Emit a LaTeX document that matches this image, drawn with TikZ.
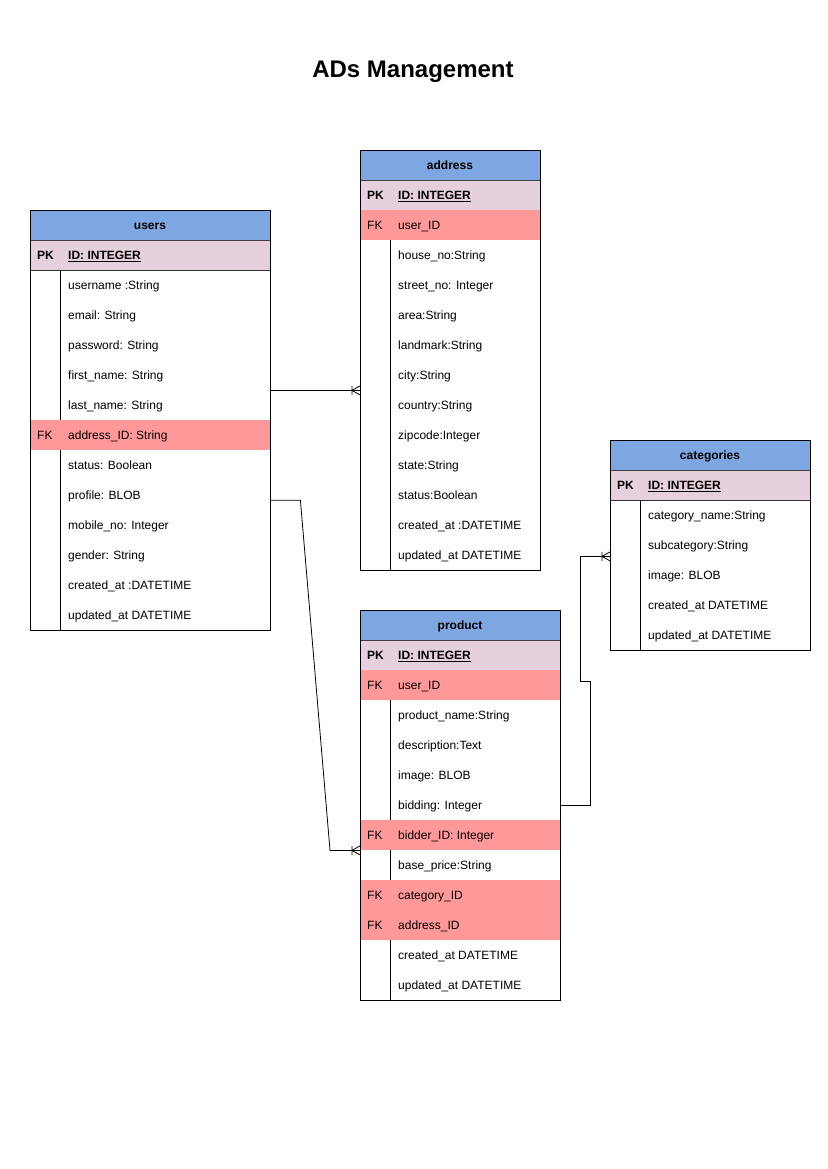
\documentclass[tikz,border=0pt]{standalone}
\usepackage{fontspec}
\setmainfont{Liberation Sans}
\usetikzlibrary{calc}

\definecolor{hdrblue}{HTML}{7EA6E0}
\definecolor{pkpink}{HTML}{E6D0DE}
\definecolor{fkred}{HTML}{FF9999}

\tikzset{
  txt/.style={font=\fontsize{12}{14}\selectfont},
  titletext/.style={font=\fontsize{24}{28}\selectfont\bfseries},
  hdrbox/.style={fill=hdrblue, draw=black!75, line width=0.7pt, inner sep=0pt,
    anchor=north west, minimum height=30pt},
  hdrtext/.style={font=\fontsize{12}{14}\selectfont\bfseries, inner sep=0pt, anchor=base},
  rowbox/.style={inner sep=0pt, anchor=north west, minimum height=30pt},
  rown/.style={},
  rowp/.style={fill=pkpink},
  rowf/.style={fill=fkred},
  divn/.style={draw=black, line width=0.7pt},
  divp/.style={},
  divf/.style={},
  sepn/.style={},
  sepp/.style={draw=black!80, line width=0.7pt},
  sepf/.style={},
  tablebox/.style={draw=black, line width=0.8pt, inner sep=0pt, anchor=north west},
  rowtext/.style={txt, anchor=base west, inner sep=0pt},
  conn/.style={draw=black, line width=0.8pt},
  crowfoot/.pic={\draw[line width=0.8pt] (-8,0) -- (0,-4.5) (-8,0) -- (0,4.5) (-8,-4.5) -- (-8,4.5);}
}

% #1 name, #2 x, #3 y, #4 width, #5 number of rows, #6 title, #7 rows key/field/kind
\newcommand\ertable[7]{%
  \begin{scope}[shift={(#2,#3)}]
    \foreach \keytxt/\fieldtxt/\rowkind [count=\i] in {#7} {
      \node[rowbox, row\rowkind, minimum width=#4] (#1-r\i) at (0,{\i*30}) {};
      \path[div\rowkind] (30,{\i*30}) -- (30,{\i*30+30});
      \path[sep\rowkind] (0,{\i*30+30}) -- (#4,{\i*30+30});
      \node[rowtext] (#1-k\i) at (7,{\i*30+19.5}) {\keytxt};
      \node[rowtext] (#1-t\i) at (38,{\i*30+19.5}) {\fieldtxt};
    }
    \node[hdrbox, minimum width=#4] (#1-h) at (0,0) {};
    \node[hdrtext] (#1-ht) at (#4/2,19.5) {#6};
    \node[tablebox, minimum width=#4, minimum height={(#5+1)*30}] (#1) at (0,0) {};
  \end{scope}%
}

\begin{document}
\begin{tikzpicture}[x=1pt, y=-1pt]
  \fill[white] (0,0) rectangle (827,1169);
  \useasboundingbox (0,0) rectangle (827,1169);

  \node[titletext] (title) at (413,72) {ADs Management};

  \ertable{users}{30}{210}{240}{13}{users}{
    \textbf{PK}/\textbf{\underline{ID: INTEGER}}/p,
    {}/username :String/n,
    {}/email: String/n,
    {}/password: String/n,
    {}/first\_name: String/n,
    {}/last\_name: String/n,
    FK/address\_ID: String/f,
    {}/status: Boolean/n,
    {}/profile: BLOB/n,
    {}/mobile\_no: Integer/n,
    {}/gender: String/n,
    {}/created\_at :DATETIME/n,
    {}/updated\_at DATETIME/n}

  \ertable{address}{360}{150}{180}{13}{address}{
    \textbf{PK}/\textbf{\underline{ID: INTEGER}}/p,
    FK/user\_ID/f,
    {}/house\_no:String/n,
    {}/street\_no: Integer/n,
    {}/area:String/n,
    {}/landmark:String/n,
    {}/city:String/n,
    {}/country:String/n,
    {}/zipcode:Integer/n,
    {}/state:String/n,
    {}/status:Boolean/n,
    {}/created\_at :DATETIME/n,
    {}/updated\_at DATETIME/n}

  \ertable{categories}{610}{440}{200}{6}{categories}{
    \textbf{PK}/\textbf{\underline{ID: INTEGER}}/p,
    {}/category\_name:String/n,
    {}/subcategory:String/n,
    {}/image: BLOB/n,
    {}/created\_at DATETIME/n,
    {}/updated\_at DATETIME/n}

  \ertable{product}{360}{610}{200}{12}{product}{
    \textbf{PK}/\textbf{\underline{ID: INTEGER}}/p,
    FK/user\_ID/f,
    {}/product\_name:String/n,
    {}/description:Text/n,
    {}/image: BLOB/n,
    {}/bidding: Integer/n,
    FK/bidder\_ID: Integer/f,
    {}/base\_price:String/n,
    FK/category\_ID/f,
    FK/address\_ID/f,
    {}/created\_at DATETIME/n,
    {}/updated\_at DATETIME/n}

  % relationships (crow's foot at the "many" side)
  \draw[conn] (users-r5.south east) -- (address-r7.south west);
  \path (address-r7.south west) pic {crowfoot};

  \coordinate (uprof) at ($(users-r9.east)+(0,5)$);
  \draw[conn] (uprof) -- ++(30,0) -- ($(product-r7.south west)+(-30,0)$) -- (product-r7.south west);
  \path (product-r7.south west) pic {crowfoot};

  \coordinate (csub) at ($(categories-r3.south west)+(0,-4)$);
  \draw[conn] (product-r6.east) -- ++(30,0) -- ++(0,-124) -- ++(-10,0) |- (csub);
  \path (csub) pic {crowfoot};
\end{tikzpicture}
\end{document}
